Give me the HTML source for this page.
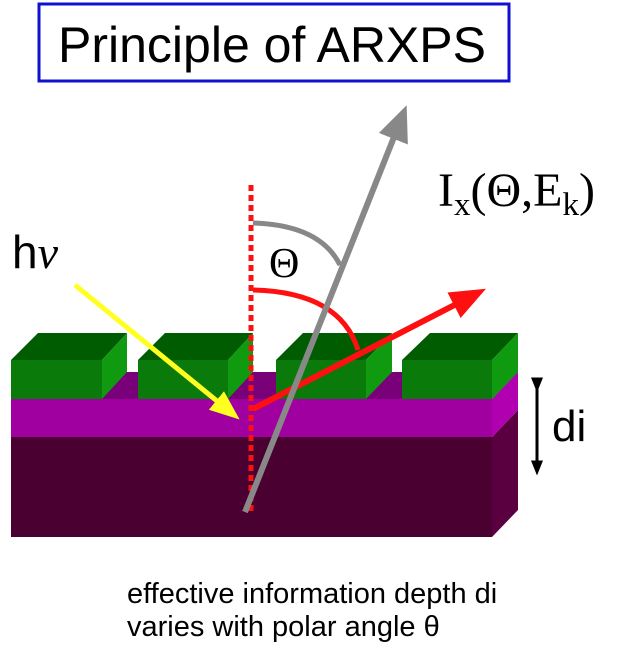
<!DOCTYPE html>
<html><head><meta charset="utf-8"><style>
html,body{margin:0;padding:0;background:#fff;width:620px;height:652px;overflow:hidden}
svg{display:block}
</style></head><body>
<svg width="620" height="652" viewBox="0 0 620 652" xmlns="http://www.w3.org/2000/svg">
<defs>
<marker id="ag" markerWidth="6" markerHeight="6" refX="3" refY="3" orient="auto" markerUnits="strokeWidth"><path d="M0,0.4 L6,3 L0,5.6 Z" fill="#888"/></marker>
<marker id="ar" markerWidth="6" markerHeight="6" refX="3" refY="3" orient="auto" markerUnits="strokeWidth"><path d="M0,0.6 L6,3 L0,5.4 Z" fill="#ff1010"/></marker>
<marker id="ay" markerWidth="6" markerHeight="6" refX="3" refY="3" orient="auto" markerUnits="strokeWidth"><path d="M0,0.6 L6,3 L0,5.4 Z" fill="#ffff20"/></marker>
<marker id="ak" markerWidth="5" markerHeight="5" refX="2.5" refY="2.5" orient="auto" markerUnits="strokeWidth"><path d="M0,0.5 L5,2.5 L0,4.5 Z" fill="#000"/></marker>
</defs>
<rect x="39" y="4" width="470" height="77" fill="#fff" stroke="#1010d0" stroke-width="3"/>
<text x="58" y="62" font-family="Liberation Sans, sans-serif" font-size="50" fill="#000">Principle of ARXPS</text>

<polygon points="492,437 518,410 518,510 492,537" fill="#5a0040"/>
<rect x="11" y="437" width="481" height="100" fill="#4a0030"/>
<polygon points="38,372 518,372 492,399 11,399" fill="#7a007a"/>
<polygon points="492,399 518,372 518,410 492,437" fill="#b000b0"/>
<rect x="11" y="399" width="481" height="38" fill="#a000a0"/>
<g>
<polygon points="11,360 38,333 127,333 102,360" fill="#005c00"/><polygon points="102,360 127,333 127,372 102,399" fill="#109a10"/><rect x="11" y="360" width="91" height="39" fill="#0a7a0a"/>
<polygon points="138,360 165,333 253,333 228,360" fill="#005c00"/><polygon points="228,360 253,333 253,372 228,399" fill="#109a10"/><rect x="138" y="360" width="90" height="39" fill="#0a7a0a"/>
<polygon points="276,360 303,333 392,333 366,360" fill="#005c00"/><polygon points="366,360 392,333 392,372 366,399" fill="#109a10"/><rect x="276" y="360" width="90" height="39" fill="#0a7a0a"/>
<polygon points="402,360 430,333 518,333 492,360" fill="#005c00"/><polygon points="492,360 518,333 518,372 492,399" fill="#109a10"/><rect x="402" y="360" width="90" height="39" fill="#0a7a0a"/>
</g>

<line x1="251" y1="185" x2="251" y2="515" stroke="#ff1010" stroke-width="5" stroke-dasharray="6,4"/>
<path d="M253,223 Q320,225 340,265" fill="none" stroke="#888" stroke-width="5"/>
<path d="M253,290 Q340,292 358,350" fill="none" stroke="#ff1010" stroke-width="5"/>
<line x1="253" y1="409" x2="470" y2="297" stroke="#ff1010" stroke-width="6" marker-end="url(#ar)"/>
<line x1="75" y1="285" x2="228" y2="410" stroke="#ffff20" stroke-width="5" marker-end="url(#ay)"/>
<line x1="245" y1="512" x2="400" y2="122" stroke="#888" stroke-width="6" marker-end="url(#ag)"/>

<text x="269" y="277" font-family="Liberation Serif, serif" font-size="42" fill="#000">Θ</text>
<text x="438" y="206" font-family="Liberation Serif, serif" font-size="48" fill="#000">I<tspan font-size="33" dy="9">x</tspan><tspan dy="-9">(Θ,E</tspan><tspan font-size="33" dy="9">k</tspan><tspan dy="-9">)</tspan></text>
<text x="12" y="268" font-family="Liberation Sans, sans-serif" font-size="46" fill="#000">h<tspan font-family="Liberation Serif, serif" font-style="italic">ν</tspan></text>

<line x1="537" y1="385" x2="537" y2="468" stroke="#000" stroke-width="3" marker-start="url(#ak)" marker-end="url(#ak)"/>
<text x="552" y="441" font-family="Liberation Sans, sans-serif" font-size="44" fill="#000">di</text>

<text x="127" y="603" font-family="Liberation Sans, sans-serif" font-size="29" fill="#000">effective information depth di</text>
<text x="127" y="636" font-family="Liberation Sans, sans-serif" font-size="29" fill="#000">varies with polar angle θ</text>
</svg>
</body></html>
